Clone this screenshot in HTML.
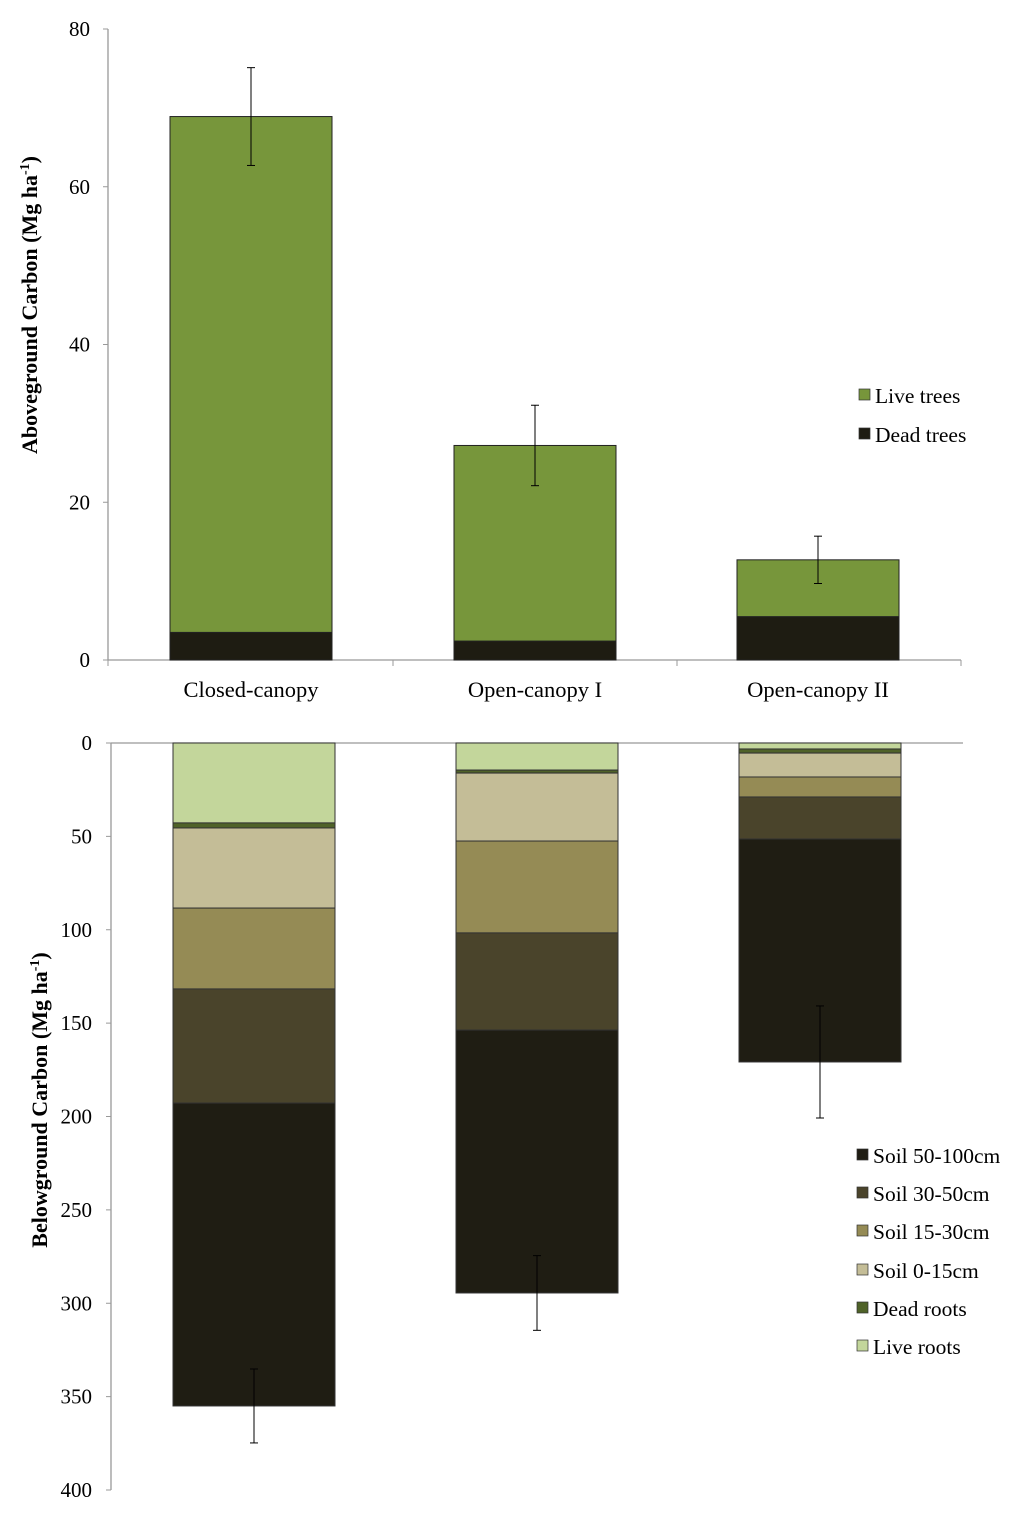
<!DOCTYPE html>
<html><head><meta charset="utf-8"><style>
body{margin:0;background:#fff}
svg{display:block;font-family:"Liberation Serif",serif}
</style></head><body>
<svg id="c" width="1024" height="1523" viewBox="0 0 1024 1523"></svg>
<script>
const categories=["Closed-canopy","Open-canopy I","Open-canopy II"];
const liveTrees=[65.4,24.8,7.2];
const deadTrees=[3.5,2.4,5.5];
const aboveErr=[6.2,5.1,3.0];
const aboveTicks=[0,20,40,60,80];
const liveRoots=[42.8,14.5,3.2];
const deadRoots=[2.7,1.6,2.2];
const soil0_15=[42.9,36.4,12.8];
const soil15_30=[43.3,49.2,10.7];
const soil30_50=[61.1,52.0,22.5];
const soil50_100=[162.2,140.8,119.4];
const belowErr=[19.8,20,30];
const belowTicks=[0,50,100,150,200,250,300,350,400];
const NS="http://www.w3.org/2000/svg";
const svg=document.getElementById('c');
function el(t,a,p){const e=document.createElementNS(NS,t);for(const k in a)e.setAttribute(k,a[k]);(p||svg).appendChild(e);return e;}
const yTop=v=>660-v*631/80;
const xCenterTop=[251,535,818], xCenterBot=[254,537,820];
const bw=162;
el('line',{x1:108,y1:29,x2:108,y2:660,stroke:'#999','stroke-width':1.3});
el('line',{x1:108,y1:660,x2:961,y2:660,stroke:'#999','stroke-width':1.3});
aboveTicks.forEach(t=>{
 el('line',{x1:103,y1:yTop(t),x2:108,y2:yTop(t),stroke:'#999'});
 const tx=el('text',{x:90,y:yTop(t)+7,'text-anchor':'end','font-size':21});tx.textContent=t;
 
 
});
[108,393,677,961].forEach(x=>el('line',{x1:x,y1:660,x2:x,y2:666,stroke:'#999'}));
categories.forEach((c,i)=>{
 const x=xCenterTop[i]-bw/2;
 const d=el('rect',{x:x,y:yTop(deadTrees[i]),width:bw,height:yTop(0)-yTop(deadTrees[i]),fill:'#1e1c12',stroke:'#222'});
 
 
 const tot=deadTrees[i]+liveTrees[i];
 const l=el('rect',{x:x,y:yTop(tot),width:bw,height:yTop(deadTrees[i])-yTop(tot),fill:'#77963b',stroke:'#222'});
 
 
 const cx=xCenterTop[i],e=aboveErr[i];
 el('line',{x1:cx,y1:yTop(tot+e),x2:cx,y2:yTop(tot-e),stroke:'#000'});
 el('line',{x1:cx-4,y1:yTop(tot+e),x2:cx+4,y2:yTop(tot+e),stroke:'#000'});
 el('line',{x1:cx-4,y1:yTop(tot-e),x2:cx+4,y2:yTop(tot-e),stroke:'#000'});
 const t=el('text',{x:cx,y:697,'text-anchor':'middle','font-size':22.5});t.textContent=c;
 
 
});
const yt=el('text',{transform:'translate(37,305) rotate(-90)','text-anchor':'middle','font-size':22,'font-weight':'bold'});
yt.innerHTML='Aboveground Carbon  (Mg ha<tspan dy="-8" font-size="14">-1</tspan><tspan dy="8">)</tspan>';


[['Live trees','#77963b',396],['Dead trees','#1e1c12',435]].forEach(([n,c,y])=>{
 el('rect',{x:859,y:y-7,width:11,height:11,fill:c,stroke:'#333','stroke-width':0.7});
 const t=el('text',{x:875,y:y+7,'font-size':21.5});t.textContent=n;
 
 
});
const yBot=v=>743+v*747/400;
el('line',{x1:111,y1:743,x2:111,y2:1490,stroke:'#999','stroke-width':1.3});
el('line',{x1:111,y1:743,x2:963,y2:743,stroke:'#999','stroke-width':1.3});
belowTicks.forEach(t=>{
 el('line',{x1:106,y1:yBot(t),x2:111,y2:yBot(t),stroke:'#999'});
 const tx=el('text',{x:92,y:yBot(t)+7,'text-anchor':'end','font-size':21});tx.textContent=t;
 
 
});
const layers=[[liveRoots,'#c3d69b','live-roots'],[deadRoots,'#4f6228','dead-roots'],[soil0_15,'#c4bd97','soil-0-15'],[soil15_30,'#958b55','soil-15-30'],[soil30_50,'#4a442b','soil-30-50'],[soil50_100,'#1f1d13','soil-50-100']];
categories.forEach((c,i)=>{
 let cum=0;const x=xCenterBot[i]-bw/2;
 layers.forEach(([arr,col,nm])=>{
  const r=el('rect',{x:x,y:yBot(cum),width:bw,height:yBot(cum+arr[i])-yBot(cum),fill:col,stroke:'#333','stroke-width':1});
  
  
  cum+=arr[i];
 });
 const cx=xCenterBot[i],e=belowErr[i];
 el('line',{x1:cx,y1:yBot(cum-e),x2:cx,y2:yBot(cum+e),stroke:'#000'});
 el('line',{x1:cx-4,y1:yBot(cum-e),x2:cx+4,y2:yBot(cum-e),stroke:'#000'});
 el('line',{x1:cx-4,y1:yBot(cum+e),x2:cx+4,y2:yBot(cum+e),stroke:'#000'});
});
const yb=el('text',{transform:'translate(47,1100) rotate(-90)','text-anchor':'middle','font-size':22,'font-weight':'bold'});
yb.innerHTML='Belowground Carbon (Mg ha<tspan dy="-8" font-size="14">-1</tspan><tspan dy="8">)</tspan>';


[['Soil 50-100cm','#1f1d13',1156],['Soil 30-50cm','#4a442b',1194],['Soil 15-30cm','#958b55',1232],['Soil 0-15cm','#c4bd97',1271],['Dead roots','#4f6228',1309],['Live roots','#c3d69b',1347]].forEach(([n,c,y])=>{
 el('rect',{x:857,y:y-7,width:11,height:11,fill:c,stroke:'#333','stroke-width':0.7});
 const t=el('text',{x:873,y:y+7,'font-size':21.5});t.textContent=n;
 
 
});
</script>
</body></html>
